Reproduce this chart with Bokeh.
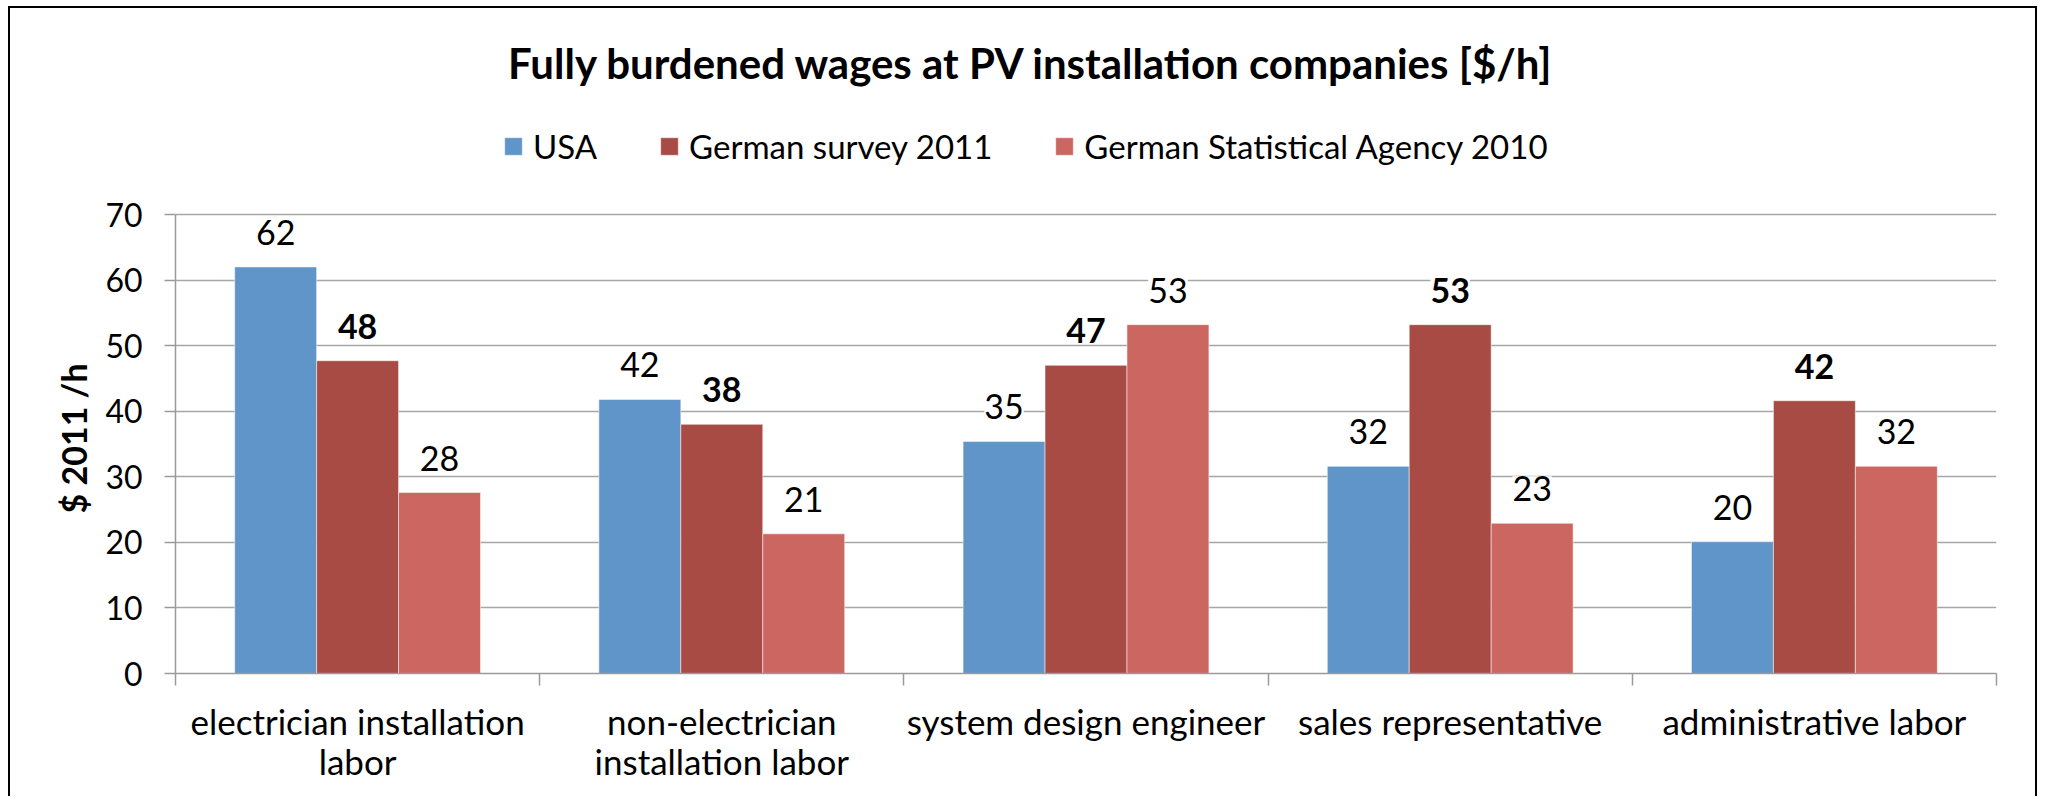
from bokeh.plotting import figure
from bokeh.models import (ColumnDataSource, Range1d, LinearAxis, FixedTicker, LabelSet, Label,
                          Legend, LegendItem, Title)
from bokeh.transform import dodge
from bokeh.core.properties import value
from bokeh.embed import file_html
from bokeh.resources import INLINE

categories = ["electrician installation\nlabor", "non-electrician\ninstallation labor",
              "system design engineer", "sales representative", "administrative labor"]
series = ["USA", "German survey 2011", "German Statistical Agency 2010"]
usa = [62.0, 41.8, 35.4, 31.6, 20.1]
german_survey = [47.7, 38.0, 47.0, 53.2, 41.6]
german_stat = [27.6, 21.3, 53.2, 22.9, 31.6]
y_ticks = [0, 10, 20, 30, 40, 50, 60, 70]
colors = ["#6095C9", "#A84B45", "#CC6660"]

FONT = "Lato"

n = len(categories)
centers = [i + 0.5 for i in range(n)]
source = ColumnDataSource(data=dict(
    x=centers,
    usa=usa, gs=german_survey, gst=german_stat,
    usa_l=[f"{v:.0f}" for v in usa],
    gs_l=[f"{v:.0f}" for v in german_survey],
    gst_l=[f"{v:.0f}" for v in german_stat],
))

# layout (pixels)
W, H = 2029, 790
MB_LEFT, MB_RIGHT, MB_TOP, MB_BOTTOM = 165, 43, 0, 125
AXIS_TOP_PX = 206          # canvas y of the 70 gridline
frame_h = H - MB_TOP - MB_BOTTOM
y_max = y_ticks[-1]
y_end = y_max * frame_h / (frame_h - (AXIS_TOP_PX - MB_TOP))

p = figure(x_range=Range1d(0, n), y_range=Range1d(0, y_end),
           width=W, height=H, output_backend="svg", toolbar_location=None,
           x_axis_location=None, min_border_left=MB_LEFT, min_border_right=MB_RIGHT,
           min_border_top=MB_TOP, min_border_bottom=MB_BOTTOM)
p.styles = {"margin-left": "8px", "margin-top": "6px",
            "border-left": "2px solid black", "border-top": "2px solid black",
            "border-right": "2px solid black"}
p.outline_line_color = None
p.background_fill_color = "white"
p.border_fill_color = "white"

# y axis
yax = p.yaxis[0]
yax.ticker = FixedTicker(ticks=y_ticks)
yax.bounds = (0, y_max)
yax.axis_line_color = "#9A9A9A"
yax.axis_line_width = 1.5
yax.major_tick_line_color = "#9A9A9A"
yax.major_tick_line_width = 1.5
yax.major_tick_out = 11
yax.major_tick_in = 0
yax.minor_tick_line_color = None
yax.major_label_text_font = FONT
yax.major_label_text_font_size = "32px"
yax.major_label_text_color = "black"
yax.major_label_standoff = 22

# y axis title, centred on the 0..70 part of the axis
ytitle = Title(text="$ 2011 /h", align="left", offset=160, standoff=17,
               text_font=FONT, text_font_style="bold", text_font_size="34px",
               text_color="black")
p.add_layout(ytitle, "left")

p.ygrid.grid_line_color = "#A6A6A6"
p.ygrid.grid_line_width = 1.5
p.xgrid.visible = False

# boundary tick axis (ticks between categories)
tick_axis = LinearAxis(ticker=FixedTicker(ticks=list(range(n + 1))),
                       major_label_overrides={i: "" for i in range(n + 1)})
tick_axis.axis_line_color = "#9A9A9A"
tick_axis.axis_line_width = 1.5
tick_axis.major_tick_line_color = "#9A9A9A"
tick_axis.major_tick_line_width = 1.5
tick_axis.major_tick_out = 12
tick_axis.major_tick_in = 0
tick_axis.minor_tick_line_color = None
tick_axis.major_label_text_font_size = "1px"
tick_axis.major_label_standoff = 0
p.add_layout(tick_axis, "below")

# category label axis
cat_axis = LinearAxis(ticker=FixedTicker(ticks=centers),
                      major_label_overrides={c: lab for c, lab in zip(centers, categories)})
cat_axis.axis_line_color = None
cat_axis.major_tick_line_color = None
cat_axis.minor_tick_line_color = None
cat_axis.major_label_text_font = FONT
cat_axis.major_label_text_font_size = "35px"
cat_axis.major_label_text_color = "black"
cat_axis.major_label_standoff = 8
cat_axis.major_label_text_line_height = 0.96
p.add_layout(cat_axis, "below")

bw = 0.225
cols = ["usa", "gs", "gst"]
offsets = [-bw, 0, bw]
renderers = []
for col, off, c in zip(cols, offsets, colors):
    r = p.vbar(x=dodge("x", off), top=col, width=bw, source=source,
               fill_color=c, line_color="white", line_alpha=0.5, line_width=1)
    renderers.append(r)

for col, off, bold in zip(cols, offsets, [False, True, False]):
    ls = LabelSet(x=dodge("x", off), y=col, text=col + "_l", source=source,
                  text_align="center", text_baseline="alphabetic", y_offset=22,
                  text_font=value(FONT), text_font_size=value("34px"),
                  text_font_style="bold" if bold else "normal", text_color="black",
                  background_fill_color="white")
    p.add_layout(ls)

legend = Legend(items=[LegendItem(label=s, renderers=[r]) for s, r in zip(series, renderers)],
                orientation="horizontal", location=(327, 507),
                glyph_width=22, glyph_height=22, label_standoff=9, spacing=61,
                padding=0, margin=0, border_line_color=None, background_fill_alpha=0,
                label_text_font=FONT, label_text_font_size="33px", label_text_color="black",
                label_height=22)
p.add_layout(legend, "center")

title = Label(x=856, y=611, x_units="screen", y_units="screen",
              text="Fully burdened wages at PV installation companies [$/h]",
              text_align="center", text_baseline="alphabetic",
              text_font=FONT, text_font_style="bold", text_font_size="42px", text_color="black")
p.add_layout(title)

open("out.html", "w").write(file_html(p, INLINE))
